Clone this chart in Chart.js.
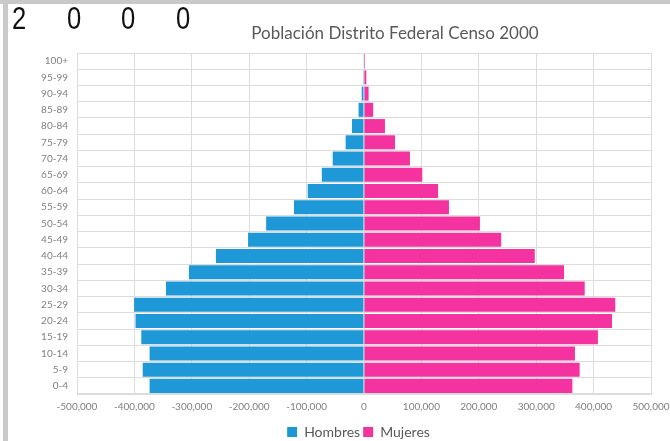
<!DOCTYPE html>
<html>
<head>
<meta charset="utf-8">
<title>Población Distrito Federal Censo 2000</title>
<script src="https://cdn.jsdelivr.net/npm/chart.js@4"></script>
<style>
  html, body { margin: 0; padding: 0; background: #fff; }
  #wrap { position: relative; width: 670px; height: 441px; overflow: hidden; }
  #barraTop { position: absolute; left: 0; top: 0; width: 670px; height: 4px; background: #c9c9c9; }
  #barraIzq { position: absolute; left: 3px; top: 0; width: 5px; height: 441px; background: #c9c9c9; }
  #anio { position: absolute; left: 12px; top: 0; font-family: "Liberation Sans", sans-serif;
          font-size: 32px; line-height: 37px; color: #111; white-space: nowrap; }
  #anio span { display: inline-block; width: 54.5px; transform: scaleX(0.8); transform-origin: left center; }
  #titulo { position: absolute; left: 0; width: 790px; top: 22px; text-align: center;
            font-family: Lato, "Open Sans", sans-serif; font-size: 17px; color: #595959; }
  canvas { position: absolute; left: 0; top: 0; }
</style>
</head>
<body>
<div id="wrap">
  <canvas id="piramide" width="670" height="441"></canvas>
  <div id="barraTop"></div>
  <div id="barraIzq"></div>
  <div id="anio"><span>2</span><span>0</span><span>0</span><span>0</span></div>
  <div id="titulo">Población Distrito Federal Censo 2000</div>
</div>
<script>
// grupos de edad, de abajo hacia arriba
var grupos = ['0-4', '5-9', '10-14', '15-19', '20-24', '25-29', '30-34', '35-39', '40-44', '45-49',
  '50-54', '55-59', '60-64', '65-69', '70-74', '75-79', '80-84', '85-89', '90-94', '95-99', '100+'];

// hombres van a la izquierda (negativos)
var hombres = [-373500, -385500, -373500, -388000, -398000, -400500, -345000, -305000, -258000, -202000,
  -170500, -122000, -98000, -73500, -54500, -32000, -21000, -9500, -4000, -1500, -600];

var mujeres = [363000, 375700, 367500, 407500, 432000, 437700, 384500, 348500, 297500, 239000,
  202000, 148000, 129000, 101500, 80000, 54000, 36500, 16000, 8000, 4000, 1800];

var colores = {
  azul: 'rgb(30, 152, 214)',
  rosa: 'rgb(244, 50, 160)',
  rejilla: '#dcdcdc',
  texto: '#7f7f7f'
};

Chart.defaults.font.family = 'Lato, "Open Sans", sans-serif';

// corre la leyenda un poco a la derecha y abajo
var moverLeyenda = {
  id: 'moverLeyenda',
  afterLayout: function (chart) {
    var lg = chart.legend;
    lg.left += 13; lg.right += 13;
    lg.top += 8; lg.bottom += 8;
  }
};

var config = {
  type: 'bar',
  data: {
    labels: grupos,
    datasets: [
      { label: 'Hombres', data: hombres, backgroundColor: colores.azul,
        barPercentage: 0.9, categoryPercentage: 0.96 },
      { label: 'Mujeres', data: mujeres, backgroundColor: colores.rosa,
        barPercentage: 0.9, categoryPercentage: 0.96 }
    ]
  },
  options: {
    indexAxis: 'y',
    responsive: false,
    animation: false,
    layout: { padding: { left: 40, right: 19, top: 53, bottom: 0 } },
    scales: {
      x: {
        stacked: true,
        min: -500000,
        max: 500000,
        ticks: {
          stepSize: 100000,
          color: colores.texto,
          font: { size: 10 },
          padding: 7,
          callback: function (v) { return v.toLocaleString('en-US'); }
        },
        grid: { color: colores.rejilla, drawTicks: false },
        border: { color: colores.rejilla },
        afterFit: function (scale) {
          scale.height = 20;
          // la etiqueta 500,000 puede salirse del área
          scale.paddingRight = 0;
        }
      },
      y: {
        stacked: true,
        reverse: true,
        ticks: { color: colores.texto, font: { size: 10 }, padding: 9, autoSkip: false },
        grid: { color: colores.rejilla, drawTicks: false },
        border: { color: colores.rejilla },
        afterFit: function (scale) { scale.width = 37; }
      }
    },
    plugins: {
      legend: {
        position: 'bottom',
        labels: { boxWidth: 10, boxHeight: 10, color: '#595959', font: { size: 14 }, padding: 3 }
      },
      title: { display: false },
      tooltip: { enabled: false }
    }
  },
  plugins: [moverLeyenda]
};

window.myBar = new Chart(document.getElementById('piramide'), config);
</script>
</body>
</html>
